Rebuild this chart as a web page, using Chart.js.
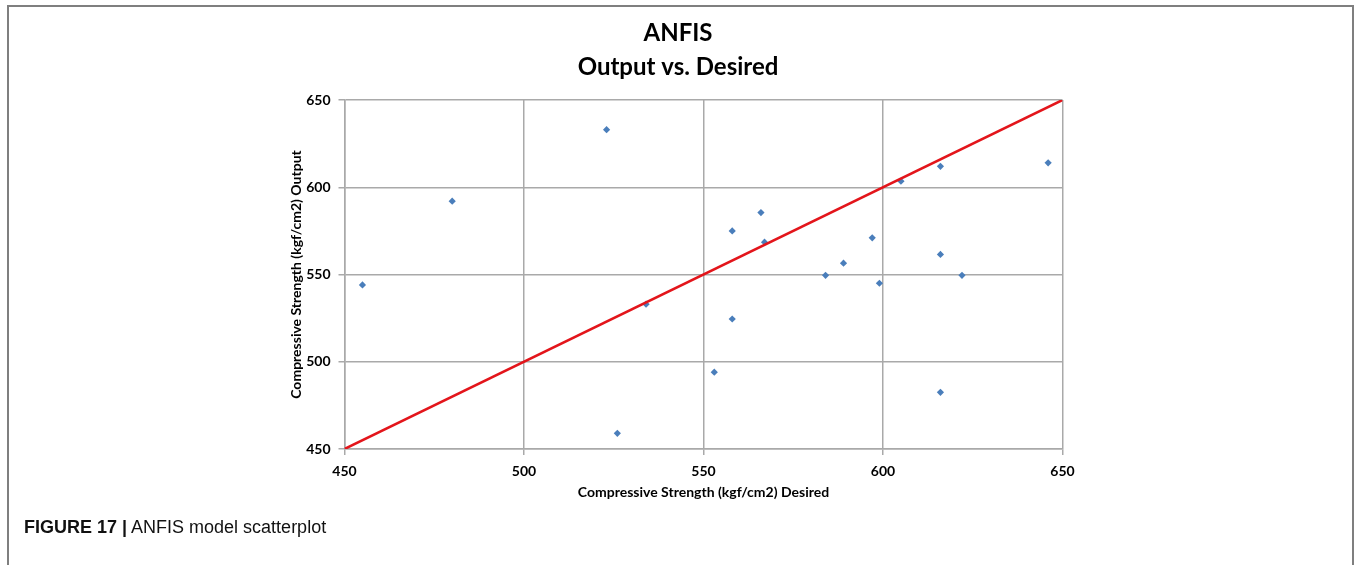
<!DOCTYPE html>
<html>
<head>
<meta charset="utf-8">
<script src="https://cdn.jsdelivr.net/npm/chart.js@4.4.1/dist/chart.umd.min.js"></script>
<style>
    html, body { margin: 0; padding: 0; background: #fff; overflow: hidden; width: 1356px; height: 565px; }
    .frame { position: absolute; left: 7px; top: 5px; width: 1343px; height: 620px; border: 2px solid #7f7f7f; }
    #chart { position: absolute; left: 0; top: 0; }
    .caption { position: absolute; left: 24px; top: 517px; font-family: "Liberation Sans", Arial, sans-serif; font-size: 18px; color: #111; }
    .caption b { font-weight: bold; }
</style>
</head>
<body>
<div class="frame"></div>
<canvas id="chart" width="1356" height="565"></canvas>
<div class="caption"><b>FIGURE 17 |</b> ANFIS model scatterplot</div>
<script>
// ANFIS desired vs output
const desired = [455, 480, 523, 526, 534, 553, 558, 558, 566, 567, 584, 589, 597, 599, 605, 616, 616, 616, 622, 646];
const output  = [544, 592, 633, 459, 533, 494, 575, 524.5, 585.5, 568.5, 549.5, 556.5, 571, 545, 603.5, 612, 561.5, 482.5, 549.5, 614];

// reference line y = x
const lineX = [450, 650];
const lineY = [450, 650];

const ticksFont = { family: 'Lato', size: 14, weight: 'bold' };
const gridColor = '#a9a9a9';

const ctx = document.getElementById('chart');

new Chart(ctx, {
    type: 'scatter',
    data: {
        datasets: [{
            label: 'Output',
            data: desired.map((x, i) => ({ x: x, y: output[i] })),
            pointStyle: 'rectRot',
            pointRadius: 3.6,
            backgroundColor: '#4a7ebb',
            borderWidth: 0,
            order: 1
        }, {
            type: 'line',
            label: 'Desired',
            data: lineX.map((x, i) => ({ x: x, y: lineY[i] })),
            borderColor: '#e3151b',
            borderWidth: 2.5,
            pointRadius: 0,
            order: 0
        }]
    },
    options: {
        responsive: false,
        animation: false,
        layout: { padding: 0 },
        plugins: {
            legend: { display: false },
            tooltip: { enabled: false },
            title: {
                display: true,
                text: ['ANFIS', 'Output vs. Desired'],
                color: '#000',
                font: { family: 'Lato', size: 24, weight: 'bold', lineHeight: 34 / 24 },
                padding: { top: 16, bottom: 16 }
            }
        },
        scales: {
            x: {
                type: 'linear',
                min: 450,
                max: 650,
                ticks: { stepSize: 50, color: '#000', font: ticksFont, padding: 8 },
                grid: { color: gridColor, lineWidth: 1.5, tickLength: 6, tickColor: gridColor },
                border: { color: gridColor, width: 1.5 },
                title: {
                    display: true,
                    text: 'Compressive Strength (kgf/cm2) Desired',
                    color: '#000',
                    font: ticksFont,
                    padding: { top: 0, bottom: 64 }
                },
                afterFit: (s) => { s.height = 116; }
            },
            y: {
                type: 'linear',
                min: 450,
                max: 650,
                ticks: { stepSize: 50, color: '#000', font: ticksFont, padding: 8 },
                grid: { color: gridColor, lineWidth: 1.5, tickLength: 6, tickColor: gridColor },
                border: { color: gridColor, width: 1.5 },
                title: {
                    display: true,
                    text: 'Compressive Strength (kgf/cm2) Output',
                    color: '#000',
                    font: ticksFont,
                    padding: { top: 288, bottom: 0 }
                },
                afterFit: (s) => { s.width = 344.5; }
            },
            y2: {
                type: 'linear',
                position: 'right',
                ticks: { display: false },
                grid: { display: false },
                border: { display: false },
                afterFit: (s) => { s.width = 293.5; }
            }
        }
    }
});
</script>
</body>
</html>
